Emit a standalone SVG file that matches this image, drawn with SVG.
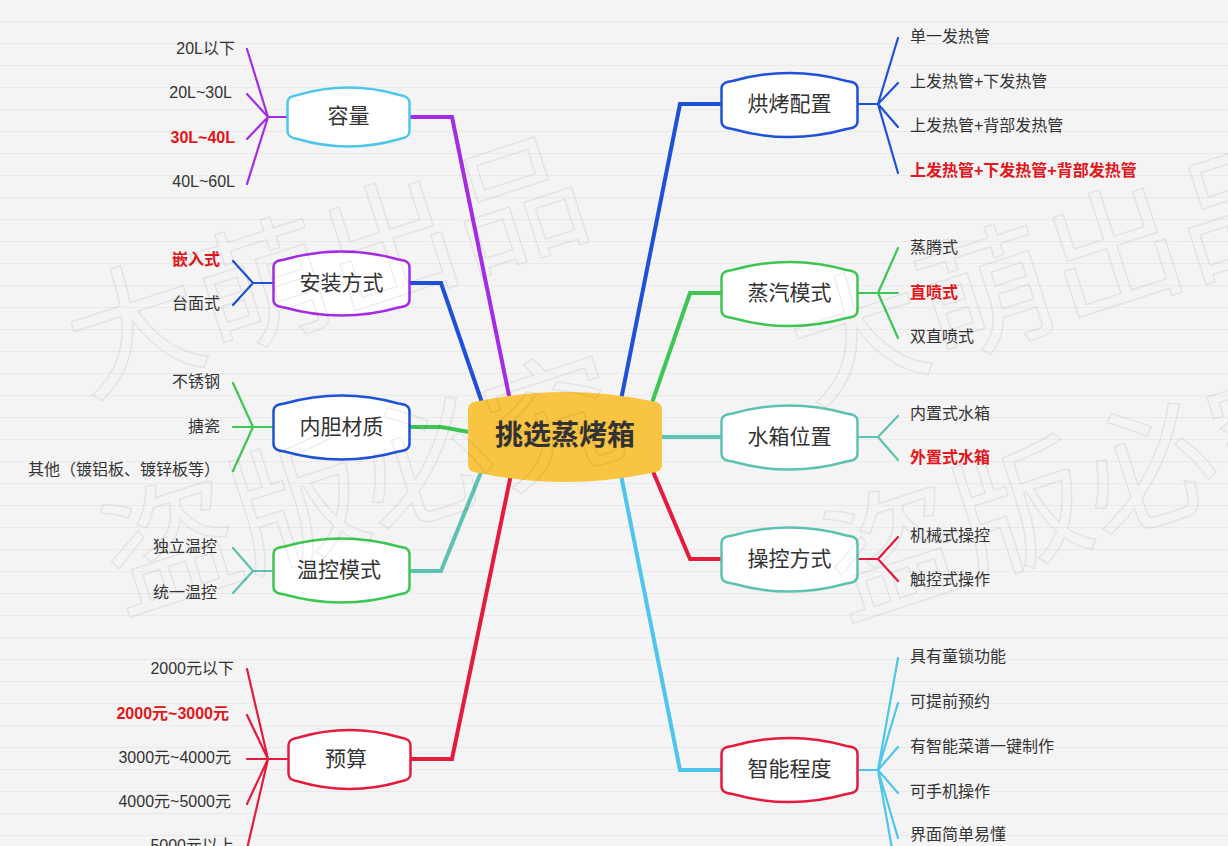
<svg xmlns="http://www.w3.org/2000/svg" width="1228" height="846" viewBox="0 0 1228 846">
<defs>
<pattern id="paper" width="40" height="22" patternUnits="userSpaceOnUse">
<rect width="40" height="22" fill="#f4f4f4"/>
<line x1="0" y1="21.5" x2="40" y2="21.5" stroke="#eaeaea" stroke-width="1"/>
</pattern>
<path id="nb" d="M -68 -16 C -68 -21 -65 -23 -57 -24 Q 0 -40 57 -24 C 65 -23 68 -21 68 -16 L 68 16 C 68 21 65 23 57 24 Q 0 40 -57 24 C -65 23 -68 21 -68 16 Z"/>
<path id="ns" d="M -61 -14 C -61 -19 -58 -21 -51 -22 Q 0 -37 51 -22 C 58 -21 61 -19 61 -14 L 61 14 C 61 19 58 21 51 22 Q 0 37 -51 22 C -58 21 -61 19 -61 14 Z"/>
<path id="nc" d="M -97 -27 C -97 -33 -94 -35 -86 -36 Q 0 -54 86 -36 C 94 -35 97 -33 97 -27 L 97 27 C 97 33 94 35 86 36 Q 0 54 -86 36 C -94 35 -97 33 -97 27 Z"/>
</defs>
<style>
text{font-family:'Liberation Sans','Noto Sans CJK SC',sans-serif}
.leaf{font-size:16px;fill:#333;dominant-baseline:central}
.r{text-anchor:end}
.hl{fill:#e3161b;font-weight:bold}
.lbl{font-size:21px;fill:#333;text-anchor:middle;dominant-baseline:central}
.node{fill:#fff;stroke-width:2.5}
.main{fill:none;stroke-width:4;stroke-linejoin:miter}
.sub{fill:none;stroke-width:2.2;stroke-linecap:round}
.pu{stroke:#a52ce6}
.bl{stroke:#1f50d9}
.cy{stroke:#4cc6ec}
.gr{stroke:#3dc653}
.te{stroke:#5ec2b2}
.re{stroke:#e51a3c}
.wm{font-family:'Noto Sans CJK SC',sans-serif;font-size:134px;fill:none;stroke:#000;stroke-opacity:0.065;stroke-width:1.6}
</style>
<rect width="1228" height="846" fill="url(#paper)"/>

<g id="connectors">
<path class="main pu" d="M 408 117 H 452 L 514 420"/>
<path class="main bl" d="M 408 283 H 441 L 488 420"/>
<path class="main gr" d="M 408 427 H 441 L 520 441"/>
<path class="main te" d="M 408 571 H 441 L 488 455"/>
<path class="main re" d="M 409 759 H 452 L 514 460"/>
<path class="main bl" d="M 723 104 H 680 L 617 420"/>
<path class="main gr" d="M 723 293 H 690 L 646 420"/>
<path class="main te" d="M 640 437 H 723"/>
<path class="main re" d="M 723 559 H 690 L 646 455"/>
<path class="main cy" d="M 723 770 H 680 L 618 460"/>

<path class="sub pu" d="M 287 117 H 268 M 268 117 L 247 49 M 268 117 L 247 94 M 268 117 L 247 139 M 268 117 L 247 184"/>
<path class="sub bl" d="M 273 283 H 253 M 253 283 L 233 261 M 253 283 L 233 305"/>
<path class="sub gr" d="M 273 427 H 253 M 253 427 L 233 383 M 253 427 L 233 427 M 253 427 L 233 471"/>
<path class="sub te" d="M 273 571 H 253 M 253 571 L 233 548 M 253 571 L 233 593"/>
<path class="sub re" d="M 288 759 H 268 M 268 759 L 247 669 M 268 759 L 247 715 M 268 759 L 247 759 M 268 759 L 247 804 M 268 759 L 247 849"/>
<path class="sub bl" d="M 858 104 H 878 M 878 104 L 898 38 M 878 104 L 898 83 M 878 104 L 898 127 M 878 104 L 898 173"/>
<path class="sub gr" d="M 858 293 H 878 M 878 293 L 898 248 M 878 293 L 898 293 M 878 293 L 898 338"/>
<path class="sub te" d="M 858 437 H 878 M 878 437 L 898 416 M 878 437 L 898 460"/>
<path class="sub re" d="M 858 559 H 878 M 878 559 L 898 537 M 878 559 L 898 581"/>
<path class="sub cy" d="M 858 770 H 878 M 878 770 L 898 658 M 878 770 L 898 703 M 878 770 L 898 747 M 878 770 L 898 793 M 878 770 L 898 838 M 878 770 L 898 882"/>
</g>

<g id="center">
<use href="#nc" x="565" y="437" fill="#f9c441"/>
<text x="565" y="435" text-anchor="middle" dominant-baseline="central" font-size="28" font-weight="bold" fill="#333">挑选蒸烤箱</text>
</g>

<g id="n-capacity">
<use href="#ns" x="348.5" y="117" class="node cy"/>
<text class="lbl" x="348.5" y="115">容量</text>
<text class="leaf r" x="235" y="48">20L以下</text>
<text class="leaf r" x="232" y="92">20L~30L</text>
<text class="leaf r hl" x="235" y="137">30L~40L</text>
<text class="leaf r" x="235" y="181">40L~60L</text>
</g>

<g id="n-install">
<use href="#nb" x="341.5" y="283.5" class="node pu"/>
<text class="lbl" x="341.5" y="282">安装方式</text>
<text class="leaf r hl" x="220" y="259">嵌入式</text>
<text class="leaf r" x="220" y="303">台面式</text>
</g>

<g id="n-liner">
<use href="#nb" x="341.5" y="427.5" class="node bl"/>
<text class="lbl" x="341.5" y="426">内胆材质</text>
<text class="leaf r" x="220" y="381">不锈钢</text>
<text class="leaf r" x="220" y="426">搪瓷</text>
<text class="leaf r" x="220" y="469">其他（镀铝板、镀锌板等）</text>
</g>

<g id="n-temp">
<use href="#nb" x="341.5" y="570.5" class="node gr"/>
<text class="lbl" x="339" y="569">温控模式</text>
<text class="leaf r" x="217" y="546">独立温控</text>
<text class="leaf r" x="217" y="592">统一温控</text>
</g>

<g id="n-budget">
<use href="#ns" x="349.5" y="759.5" class="node re"/>
<text class="lbl" x="346" y="758">预算</text>
<text class="leaf r" x="234" y="668">2000元以下</text>
<text class="leaf r hl" x="229" y="713">2000元~3000元</text>
<text class="leaf r" x="231" y="757">3000元~4000元</text>
<text class="leaf r" x="231" y="801">4000元~5000元</text>
<text class="leaf r" x="234" y="845">5000元以上</text>
</g>

<g id="n-bake">
<use href="#nb" x="789.5" y="105" class="node bl"/>
<text class="lbl" x="789.5" y="103">烘烤配置</text>
<text class="leaf" x="910" y="36">单一发热管</text>
<text class="leaf" x="910" y="81">上发热管+下发热管</text>
<text class="leaf" x="910" y="125">上发热管+背部发热管</text>
<text class="leaf hl" x="910" y="170">上发热管+下发热管+背部发热管</text>
</g>

<g id="n-steam">
<use href="#nb" x="789.5" y="294" class="node gr"/>
<text class="lbl" x="789.5" y="292">蒸汽模式</text>
<text class="leaf" x="910" y="247">蒸腾式</text>
<text class="leaf hl" x="910" y="292">直喷式</text>
<text class="leaf" x="910" y="336">双直喷式</text>
</g>

<g id="n-tank">
<use href="#nb" x="789.5" y="437.5" class="node te"/>
<text class="lbl" x="789.5" y="436">水箱位置</text>
<text class="leaf" x="910" y="413">内置式水箱</text>
<text class="leaf hl" x="910" y="457">外置式水箱</text>
</g>

<g id="n-control">
<use href="#nb" x="789.5" y="559.5" class="node te"/>
<text class="lbl" x="789.5" y="558">操控方式</text>
<text class="leaf" x="910" y="535">机械式操控</text>
<text class="leaf" x="910" y="579">触控式操作</text>
</g>

<g id="n-smart">
<use href="#nb" x="789.5" y="770" class="node re"/>
<text class="lbl" x="789.5" y="768">智能程度</text>
<text class="leaf" x="910" y="656">具有童锁功能</text>
<text class="leaf" x="910" y="701">可提前预约</text>
<text class="leaf" x="910" y="746">有智能菜谱一键制作</text>
<text class="leaf" x="910" y="791">可手机操作</text>
<text class="leaf" x="910" y="834">界面简单易懂</text>
</g>

<g id="watermark">
<text class="wm" transform="translate(86 395) rotate(-18)">大萌出品</text>
<text class="wm" transform="translate(122 612) rotate(-18)">盗版必究</text>
<text class="wm" transform="translate(810 402) rotate(-18)">大萌出品</text>
<text class="wm" transform="translate(845 618) rotate(-18)">盗版必究</text>
</g>
</svg>
